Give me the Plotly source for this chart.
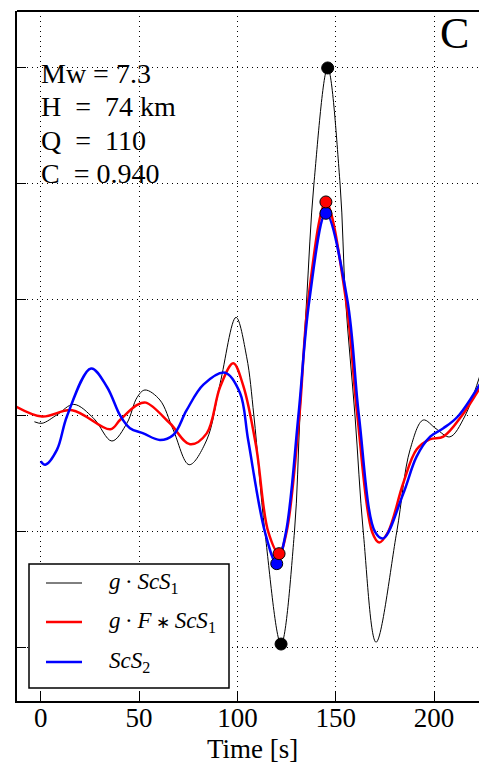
import plotly.graph_objects as go

# ---- data ----
black_t = [-3.2, 0.7, 8.3, 16.8, 26.9, 36.2, 43.9, 49.0, 53.0, 60.6, 67.4, 75.5, 84.4, 91.2, 99.3, 104.7,
           108.4, 114.0, 122.2, 129.0, 131.8, 135.2, 138.9, 145.9, 152.2, 155.0, 159.8, 164.0, 170.5,
           181.0, 187.8, 194.5, 201.0, 208.0, 215.7, 226.7, 230.0]
black_v = [-0.05, -0.063, 0.01, 0.10, -0.02, -0.216, -0.06, 0.16, 0.224, 0.138, -0.12, -0.42, -0.207, 0.28, 0.85, 0.51,
           0.0, -1.0, -1.966, -1.0, 0.0, 1.0, 2.0, 3.0, 2.0, 1.0, 0.0, -1.0, -1.95,
           -1.0, -0.29, -0.035, -0.11, -0.18, 0.0, 0.51, 0.62]

red_t = [-13.0, 0.7, 16.0, 35.4, 40.3, 49.0, 53.5, 65.7, 75.9, 84.4, 91.2, 97.9, 103.0, 109.5, 115.7, 121.2, 125.0,
         131.5, 136.0, 145.0, 155.2, 161.0, 168.5, 172.1, 176.6, 184.3, 191.1, 198.0, 204.7, 214.0, 226.7, 230.0]
red_v = [0.085, -0.005, 0.05, -0.115, -0.035, 0.095, 0.115, -0.063, -0.244, -0.15, 0.25, 0.454, 0.26, -0.26, -1.0, -1.187, -1.0,
         0.0, 1.0, 1.845, 1.0, 0.0, -1.0, -1.09, -1.0, -0.58, -0.29, -0.2, -0.178, 0.0, 0.34, 0.44]

blue_t = [0.0, 2.3, 8.3, 13.4, 25.6, 33.7, 40.5, 45.4, 52.2, 60.6, 67.4, 74.2, 82.7, 93.7, 101.3, 105.5,
          114.0, 120.0, 124.7, 131.0, 136.6, 145.0, 155.9, 161.8, 170.0, 174.2, 184.3, 191.1, 198.0, 204.7,
          212.3, 226.7, 230.0]
blue_v = [-0.39, -0.42, -0.29, 0.0, 0.41, 0.25, 0.0, -0.106, -0.15, -0.207, -0.164, 0.05, 0.27, 0.373, 0.2, -0.21,
          -1.0, -1.273, -1.0, 0.0, 1.0, 1.747, 1.0, 0.0, -1.0, -1.055, -0.67, -0.35, -0.178, -0.106,
          0.0, 0.37, 0.47]

black_peaks_t = [145.9, 122.2]
black_peaks_v = [3.0, -1.966]
red_peaks_t = [145.0, 121.2]
red_peaks_v = [1.845, -1.187]
blue_peaks_t = [145.0, 120.0]
blue_peaks_v = [1.747, -1.273]

x_ticks = [0, 50, 100, 150, 200]
info_lines = ["Mw = 7.3", "H\u00a0\u00a0=\u00a0\u00a074 km", "Q\u00a0\u00a0=\u00a0\u00a0110", "C\u00a0\u00a0= 0.940"]
info_y = [2.95, 2.665, 2.375, 2.09]
legend_labels = ["<i>g</i>\u2009\u00b7\u2009<i>ScS</i><sub>1</sub>",
                 "<i>g</i>\u2009\u00b7\u2009<i>F</i>\u2009<span style='font-size:17px'>\u2217</span>\u2009<i>ScS</i><sub>1</sub>",
                 "<i>ScS</i><sub>2</sub>"]
legend_colors = ["black", "red", "blue"]
legend_widths = [1, 2.5, 2.5]

SERIF = "Liberation Serif, Times New Roman, serif"

fig = go.Figure()
fig.add_trace(go.Scatter(x=black_t, y=black_v, mode="lines", line=dict(color="black", width=1, shape="spline"),
                         showlegend=False))
fig.add_trace(go.Scatter(x=red_t, y=red_v, mode="lines", line=dict(color="red", width=2.5, shape="spline"),
                         showlegend=False))
fig.add_trace(go.Scatter(x=blue_t, y=blue_v, mode="lines", line=dict(color="blue", width=2.5, shape="spline"),
                         showlegend=False))
for tt, vv, col in [(black_peaks_t, black_peaks_v, "black"), (blue_peaks_t, blue_peaks_v, "blue"),
                    (red_peaks_t, red_peaks_v, "red")]:
    fig.add_trace(go.Scatter(x=tt, y=vv, mode="markers",
                             marker=dict(color=col, size=12, line=dict(color="black", width=1)),
                             showlegend=False))

# page body has an 8px margin, so the figure is sized to fit the window
W, H = 479, 755
L, R, T, B = 9, 0, 3, 62
pw, ph = W - L - R, H - T - B
VIS_L, VIS_B = 17, 701  # plot-area left / bottom in the screenshot


def px(xp):
    return (xp - VIS_L) / pw


def py(yp):
    return (VIS_B - yp) / ph


shapes = [dict(type="line", xref="paper", yref="paper", x0=0, x1=1, y0=1, y1=1,
               line=dict(color="black", width=2), layer="above"),
          dict(type="rect", xref="paper", yref="paper", x0=px(29), x1=px(229), y0=py(688), y1=py(564),
               line=dict(color="black", width=1.5), fillcolor="white", layer="above")]
annotations = []
leg_y = [583, 622, 662]
for lab, col, wd, yy in zip(legend_labels, legend_colors, legend_widths, leg_y):
    shapes.append(dict(type="line", xref="paper", yref="paper", x0=px(46), x1=px(82), y0=py(yy), y1=py(yy),
                       line=dict(color=col, width=wd), layer="above"))
    annotations.append(dict(xref="paper", yref="paper", x=px(107), y=py(yy), text=lab, showarrow=False,
                            xanchor="left", yanchor="middle", font=dict(family=SERIF, size=23, color="black")))

for txt, yy in zip(info_lines, info_y):
    annotations.append(dict(xref="x", yref="y", x=0, y=yy, text=txt, showarrow=False, xanchor="left",
                            yanchor="middle", xshift=-2, font=dict(family=SERIF, size=28, color="black")))
annotations.append(dict(xref="x", yref="y", x=210.6, y=3.30, text="C", showarrow=False, xanchor="center",
                        yanchor="middle", font=dict(family=SERIF, size=44, color="black")))
annotations.append(dict(xref="x", yref="paper", x=107.5, y=py(749), text="Time [s]", showarrow=False,
                        xanchor="center", yanchor="middle", font=dict(family=SERIF, size=27, color="black")))

fig.update_layout(
    width=W, height=H, margin=dict(l=L, r=R, t=T, b=B),
    paper_bgcolor="white", plot_bgcolor="white",
    shapes=shapes, annotations=annotations,
    xaxis=dict(range=[-12.05, 226.9], tickvals=x_ticks, ticks="inside", ticklen=10, tickwidth=1,
               tickcolor="black", showline=True, linewidth=2, linecolor="black",
               showgrid=True, gridcolor="black", gridwidth=1, griddash="1px,4px", zeroline=False,
               ticklabelstandoff=-8,
               tickfont=dict(family=SERIF, size=27, color="black")),
    yaxis=dict(range=[-2.457, 3.491], tick0=0, dtick=1, ticks="inside", ticklen=9, tickwidth=1,
               tickcolor="black", showline=True, linewidth=2, linecolor="black", showticklabels=False,
               showgrid=True, gridcolor="black", gridwidth=1, griddash="1px,4px", zeroline=False),
)
fig.write_html("out.html")
